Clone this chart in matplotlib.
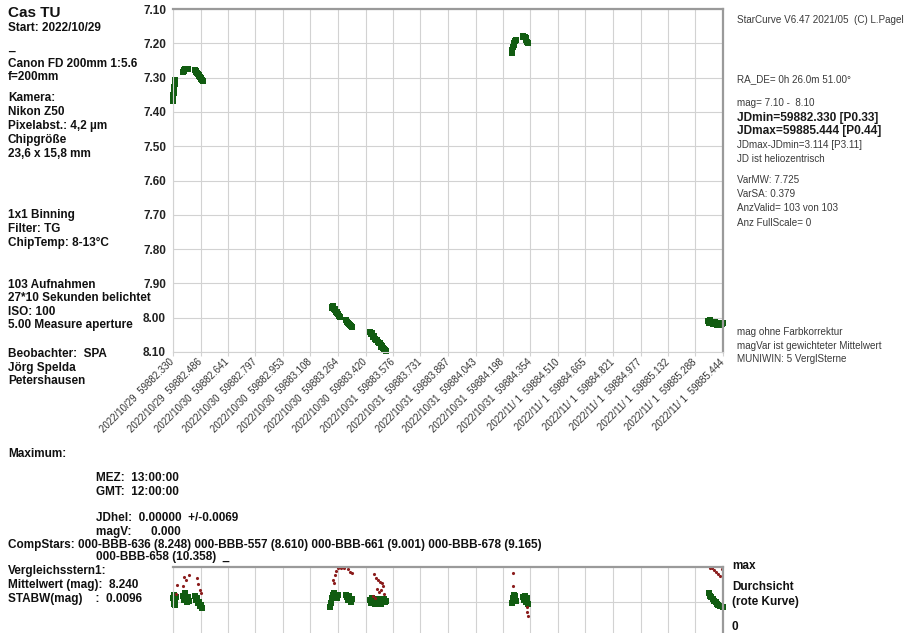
import matplotlib
matplotlib.use('Agg')
import matplotlib.pyplot as plt

plt.rcParams['font.family'] = ['Liberation Sans', 'DejaVu Sans']

W, H = 914, 633

# x axis: JD (hel., -2400000) ticks with calendar date
jd_ticks = [59882.330, 59882.486, 59882.641, 59882.797, 59882.953, 59883.108,
            59883.264, 59883.420, 59883.576, 59883.731, 59883.887, 59884.043,
            59884.198, 59884.354, 59884.510, 59884.665, 59884.821, 59884.977,
            59885.132, 59885.288, 59885.444]
jd_text = ['59882.330', '59882.486', '59882.641', '59882.797', '59882.953', '59883.108',
           '59883.264', '59883.420', '59883.576', '59883.731', '59883.887', '59884.043',
           '59884.198', '59884.354', '59884.510', '59884.665', '59884.821', '59884.977',
           '59885.132', '59885.288', '59885.444']
dates = ['2022/10/29', '2022/10/29', '2022/10/30', '2022/10/30', '2022/10/30', '2022/10/30',
         '2022/10/30', '2022/10/30', '2022/10/31', '2022/10/31', '2022/10/31', '2022/10/31',
         '2022/10/31', '2022/10/31', '2022/11/ 1', '2022/11/ 1', '2022/11/ 1', '2022/11/ 1',
         '2022/11/ 1', '2022/11/ 1', '2022/11/ 1']
mag_ticks = [7.10, 7.20, 7.30, 7.40, 7.50, 7.60, 7.70, 7.80, 7.90, 8.00, 8.10]

# Cas TU measurements
var_jd = [59882.330, 59882.331, 59882.332, 59882.334, 59882.335, 59882.337, 59882.338, 59882.340, 59882.341, 59882.343,
          59882.386, 59882.390, 59882.394, 59882.398, 59882.402, 59882.406, 59882.410, 59882.414,
          59882.455, 59882.459, 59882.463, 59882.467, 59882.471, 59882.475, 59882.479, 59882.483, 59882.487, 59882.491, 59882.495, 59882.499,
          59883.229, 59883.233, 59883.237, 59883.241, 59883.245, 59883.249, 59883.253, 59883.257, 59883.261, 59883.265, 59883.269, 59883.274,
          59883.310, 59883.315, 59883.320, 59883.326, 59883.332, 59883.338, 59883.344,
          59883.445, 59883.450, 59883.455, 59883.460, 59883.465, 59883.470, 59883.475, 59883.480, 59883.485, 59883.490, 59883.495,
          59883.500, 59883.505, 59883.510, 59883.515, 59883.520, 59883.526, 59883.532, 59883.538,
          59884.248, 59884.251, 59884.255, 59884.259, 59884.263, 59884.267, 59884.271,
          59884.310, 59884.314, 59884.318, 59884.322, 59884.326, 59884.330, 59884.334, 59884.338,
          59885.360, 59885.366, 59885.372, 59885.378, 59885.384, 59885.390, 59885.396, 59885.402, 59885.408,
          59885.414, 59885.420, 59885.426, 59885.432, 59885.438, 59885.443]
var_mag = [7.368, 7.360, 7.352, 7.345, 7.338, 7.332, 7.326, 7.318, 7.312, 7.308,
           7.283, 7.280, 7.278, 7.276, 7.275, 7.274, 7.275, 7.276,
           7.279, 7.283, 7.281, 7.286, 7.289, 7.291, 7.294, 7.297, 7.300, 7.303, 7.306, 7.310,
           7.968, 7.972, 7.966, 7.975, 7.978, 7.976, 7.983, 7.986, 7.982, 7.990, 7.994, 7.997,
           8.008, 8.012, 8.016, 8.019, 8.022, 8.025, 8.028,
           8.042, 8.048, 8.046, 8.053, 8.057, 8.054, 8.062, 8.066, 8.064, 8.071, 8.075,
           8.073, 8.080, 8.084, 8.083, 8.088, 8.091, 8.094, 8.097,
           7.228, 7.220, 7.212, 7.205, 7.199, 7.194, 7.190,
           7.181, 7.180, 7.182, 7.181, 7.184, 7.190, 7.195, 7.199,
           8.010, 8.014, 8.008, 8.016, 8.012, 8.018, 8.013, 8.017, 8.020,
           8.015, 8.019, 8.022, 8.016, 8.019, 8.015]

# comparison star 1 (scaled 0..max) and transparency curve
comp_jd = [59882.331, 59882.334, 59882.337, 59882.340, 59882.344, 59882.348,
           59882.388, 59882.393, 59882.398, 59882.404, 59882.410, 59882.416, 59882.421,
           59882.456, 59882.461, 59882.467, 59882.473, 59882.479, 59882.485, 59882.491, 59882.497,
           59883.221, 59883.226, 59883.232, 59883.238, 59883.244, 59883.250, 59883.256, 59883.262,
           59883.311, 59883.317, 59883.323, 59883.329, 59883.335, 59883.341,
           59883.446, 59883.452, 59883.458, 59883.464, 59883.470, 59883.476, 59883.482, 59883.488,
           59883.494, 59883.500, 59883.506, 59883.512, 59883.518, 59883.524, 59883.530, 59883.536,
           59884.250, 59884.254, 59884.258, 59884.262, 59884.267, 59884.271,
           59884.313, 59884.318, 59884.323, 59884.328, 59884.333, 59884.338,
           59885.362, 59885.370, 59885.378, 59885.386, 59885.394, 59885.402, 59885.410, 59885.418,
           59885.426, 59885.434, 59885.442]
comp_val = [0.55, 0.46, 0.60, 0.52, 0.45, 0.56,
            0.58, 0.52, 0.62, 0.55, 0.50, 0.57, 0.51,
            0.58, 0.52, 0.55, 0.48, 0.50, 0.44, 0.45, 0.40,
            0.42, 0.48, 0.55, 0.60, 0.62, 0.58, 0.55, 0.59,
            0.60, 0.56, 0.52, 0.58, 0.50, 0.54,
            0.52, 0.48, 0.55, 0.50, 0.53, 0.47, 0.52, 0.49,
            0.54, 0.50, 0.47, 0.52, 0.49, 0.53, 0.50, 0.51,
            0.48, 0.55, 0.60, 0.53, 0.58, 0.51,
            0.56, 0.52, 0.58, 0.50, 0.55, 0.46,
            0.62, 0.58, 0.56, 0.53, 0.51, 0.49, 0.47, 0.45,
            0.44, 0.43, 0.42]
trans_jd = [59882.347, 59882.353, 59882.387, 59882.392, 59882.404, 59882.421, 59882.466, 59882.472, 59882.483, 59882.489,
            59883.236, 59883.242, 59883.247, 59883.253, 59883.264, 59883.281, 59883.298, 59883.321, 59883.332, 59883.343,
            59883.462, 59883.468, 59883.474, 59883.479, 59883.485, 59883.491, 59883.496, 59883.502, 59883.507, 59883.513,
            59883.519, 59883.524,
            59884.255, 59884.256, 59884.334, 59884.335, 59884.340,
            59885.371, 59885.382, 59885.393, 59885.405, 59885.416, 59885.427, 59885.438, 59885.443]
trans_val = [0.61, 0.74, 0.72, 0.86, 0.81, 0.88, 0.84, 0.75, 0.67, 0.62,
             0.81, 0.77, 0.88, 0.94, 0.98, 0.99, 0.99, 0.97, 0.93, 0.91,
             0.58, 0.90, 0.55, 0.84, 0.68, 0.81, 0.64, 0.78, 0.67, 0.77,
             0.72, 0.61,
             0.91, 0.73, 0.42, 0.35, 0.29,
             0.98, 0.99, 0.95, 0.93, 0.90, 0.87, 0.97, 0.84]

GREEN = '#115c11'
GRID = '#d2d2d2'
FRAME = '#9a9a9a'

fig = plt.figure(figsize=(W / 100, H / 100), dpi=100)


def px_axes(x0, y0, x1, y1):
    return fig.add_axes([x0 / W, 1 - y1 / H, (x1 - x0) / W, (y1 - y0) / H])


def put(x, y, s, size=8.5, bold=True, color='#111111', **kw):
    fig.text(x / W, 1 - y / H, s, fontsize=size, fontweight='bold' if bold else 'normal',
             color=color, ha='left', va='center', **kw)


def style(ax):
    for side in ('top', 'right'):
        ax.spines[side].set_color(FRAME)
        ax.spines[side].set_linewidth(1.6)
    for side in ('left', 'bottom'):
        ax.spines[side].set_color(GRID)
        ax.spines[side].set_linewidth(0.8)
    ax.grid(True, color=GRID, linewidth=0.8)
    ax.set_axisbelow(True)


# main light curve
ax = px_axes(173, 9, 723, 352)
style(ax)
ax.plot(var_jd, var_mag, 's', color=GREEN, markersize=4, markeredgewidth=0, clip_on=False)
ax.set_xlim(jd_ticks[0], jd_ticks[-1])
ax.set_ylim(mag_ticks[-1], mag_ticks[0])
ax.set_yticks(mag_ticks)
ax.set_yticklabels(['%.2f' % m for m in mag_ticks], fontsize=8.5, fontweight='bold', color='#222222')
ax.tick_params(axis='y', length=0, pad=5)
ax.set_xticks(jd_ticks)
ax.set_xticklabels(['%s  %s' % (d, j) for d, j in zip(dates, jd_text)],
                   rotation=45, ha='right', va='center', rotation_mode='anchor',
                   fontsize=7, color='#333333')
ax.tick_params(axis='x', length=3, color=GRID, pad=3)

# comparison star / transparency strip
ax2 = px_axes(173, 567, 723, 636)
style(ax2)
ax2.plot(comp_jd, comp_val, 's', color=GREEN, markersize=5, markeredgewidth=0, clip_on=False)
ax2.plot(trans_jd, trans_val, '.', color='#8b1c1c', markersize=2.5)
ax2.set_xlim(jd_ticks[0], jd_ticks[-1])
ax2.set_ylim(0, 1)
ax2.set_xticks(jd_ticks)
ax2.set_yticks([0.5])
ax2.tick_params(length=0, labelbottom=False, labelleft=False)

# left column
put(8, 13, 'Cas TU', size=11)
left_lines = [
    (28, 'Start: 2022/10/29'), (47, '_'), (64, 'Canon FD 200mm 1:5.6'), (77, 'f=200mm'),
    (98, 'Kamera:'), (112, 'Nikon Z50'), (126, 'Pixelabst.: 4,2 µm'), (140, 'Chipgröße'),
    (154, '23,6 x 15,8 mm'), (215, '1x1 Binning'), (229, 'Filter: TG'),
    (243, 'ChipTemp: 8-13°C'), (285, '103 Aufnahmen'), (298, '27*10 Sekunden belichtet'),
    (312, 'ISO: 100'), (325, '5.00 Measure aperture'), (354, 'Beobachter:  SPA'),
    (368, 'Jörg Spelda'), (381, 'Petershausen'),
]
for y, s in left_lines:
    put(8, y, s)

# right column
right_lines = [
    (20, 'StarCurve V6.47 2021/05  (C) L.Pagel', False),
    (79, 'RA_DE= 0h 26.0m 51.00°', False),
    (103, 'mag= 7.10 -  8.10', False),
    (118, 'JDmin=59882.330 [P0.33]', True),
    (131, 'JDmax=59885.444 [P0.44]', True),
    (145, 'JDmax-JDmin=3.114 [P3.11]', False),
    (159, 'JD ist heliozentrisch', False),
    (180, 'VarMW: 7.725', False),
    (194, 'VarSA: 0.379', False),
    (208, 'AnzValid= 103 von 103', False),
    (223, 'Anz FullScale= 0', False),
    (332, 'mag ohne Farbkorrektur', False),
    (346, 'magVar ist gewichteter Mittelwert', False),
    (359, 'MUNIWIN: 5 VerglSterne', False),
]
for y, s, b in right_lines:
    put(737, y, s, size=8.6 if b else 7.1, bold=b, color='#1a1a1a' if b else '#3a3a3a')

# maximum / comparison stars block
put(8, 454, 'Maximum:')
put(96, 478, 'MEZ:  13:00:00')
put(96, 492, 'GMT:  12:00:00')
put(96, 518, 'JDhel:  0.00000  +/-0.0069')
put(96, 532, 'magV:      0.000')
put(8, 545, 'CompStars: 000-BBB-636 (8.248) 000-BBB-557 (8.610) 000-BBB-661 (9.001) 000-BBB-678 (9.165)')
put(96, 557, '000-BBB-658 (10.358)  _')
put(8, 571, 'Vergleichsstern1:')
put(8, 585, 'Mittelwert (mag):  8.240')
put(8, 599, 'STABW(mag)    :  0.0096')
put(732, 566, 'max')
put(732, 587, 'Durchsicht')
put(732, 602, '(rote Kurve)')
put(732, 627, '0')

fig.savefig('out.png', dpi=100)
